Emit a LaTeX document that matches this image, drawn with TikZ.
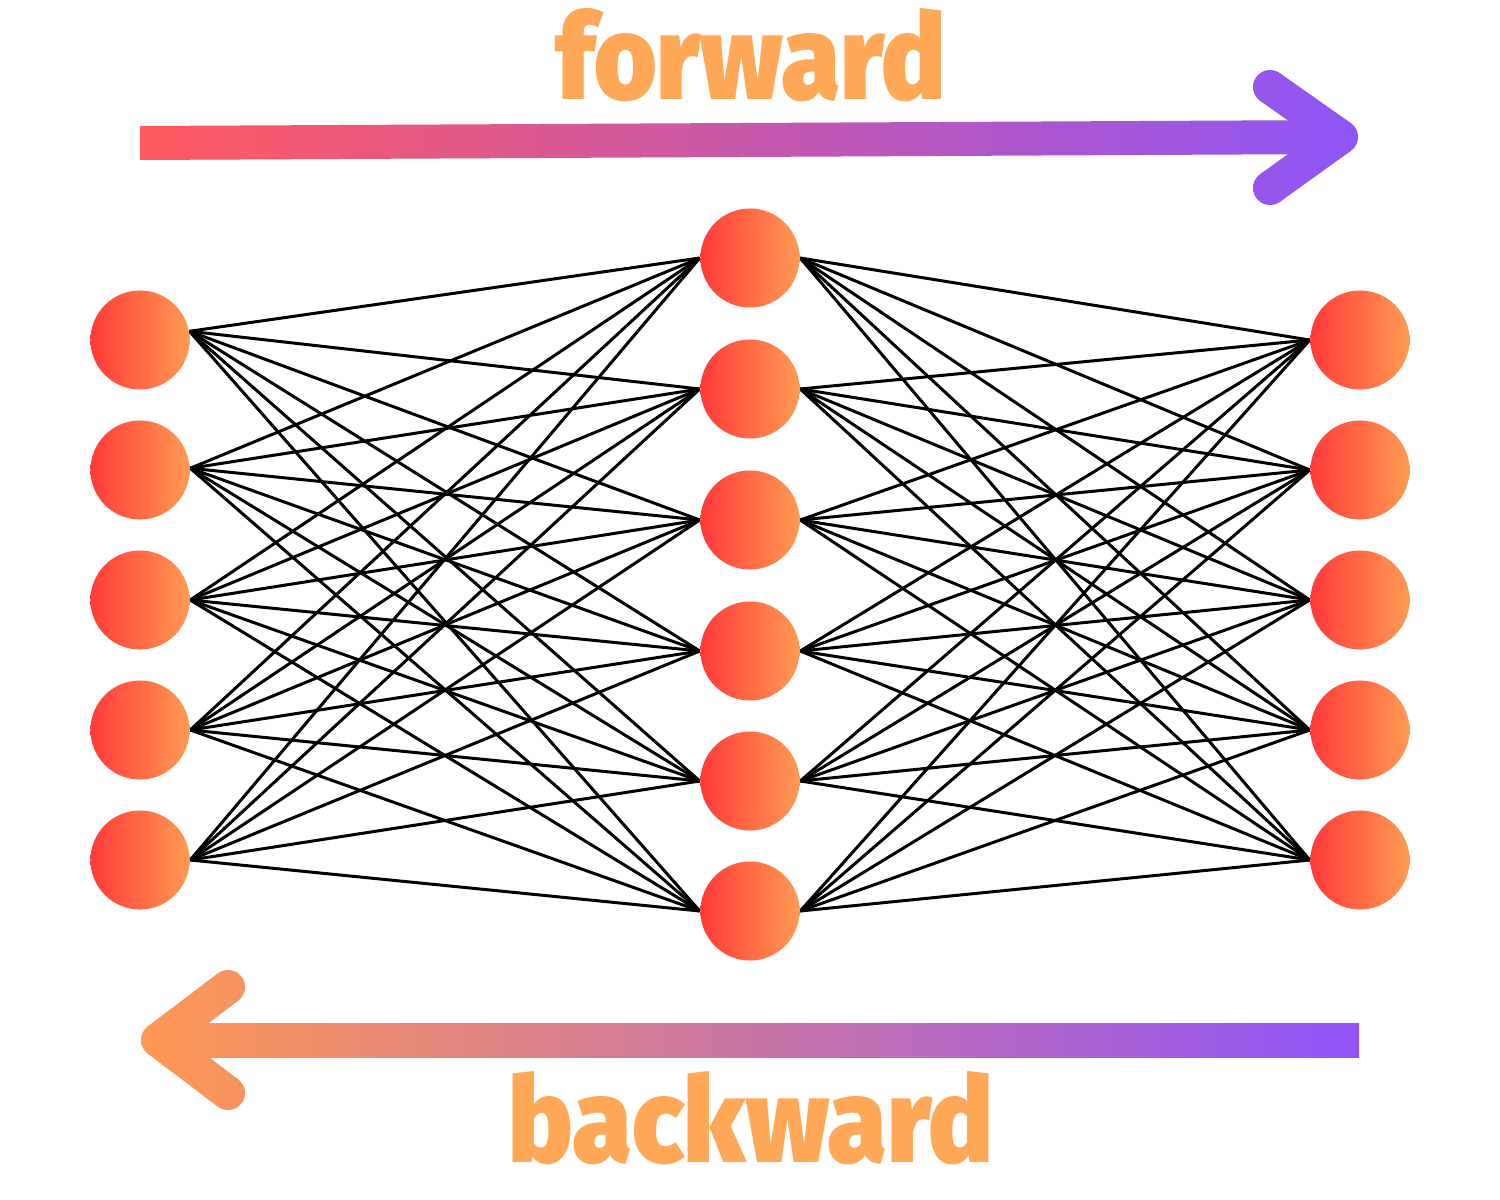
\documentclass[tikz,border=0pt]{standalone}
\usepackage{fontspec}
\usetikzlibrary{calc,backgrounds}
\IfFontExistsTF{FiraSans-Black.otf}{\newfontfamily\dispfont{FiraSans-Black.otf}}{%
  \IfFontExistsTF{Fira Sans Black}{\newfontfamily\dispfont{Fira Sans Black}}{\newfontfamily\dispfontbase{Fira Sans}\newcommand\dispfont{\dispfontbase\bfseries}}}
\definecolor{nodeL}{HTML}{FF3A3A}
\definecolor{nodeR}{HTML}{FF9B52}
\definecolor{fwdL}{HTML}{FF5A5F}
\definecolor{fwdR}{HTML}{8F55F7}
\definecolor{bwdL}{HTML}{FF9853}
\definecolor{bwdR}{HTML}{9153F8}
\definecolor{txtC}{HTML}{FFA858}
\newcommand\fpiece[1]{\begin{scope}\clip #1;\shade[left color=fwdL,right color=fwdR] (140,60) rectangle (1358,215);\end{scope}}
\newcommand\bpiece[1]{\begin{scope}\clip #1;\shade[left color=bwdL,right color=bwdR] (141,960) rectangle (1359,1120);\end{scope}}
\begin{document}
\begin{tikzpicture}[x=0.01cm,y=-0.01cm,
  neuron/.style={circle,minimum size=0.99cm,inner sep=0pt,draw=none,left color=nodeL,right color=nodeR},
  conn/.style={line width=0.85pt,black},
  lbl/.style={inner sep=0pt,text=txtC}]
\useasboundingbox (0,0) rectangle (1500,1200);
% neurons
\foreach \i/\yy in {1/340,2/470,3/600,4/730,5/860}{
  \node[neuron] (L\i) at (140,\yy) {};
  \node[neuron] (R\i) at (1360,\yy) {};}
\foreach \i/\yy in {1/258,2/389,3/520,4/651,5/781,6/911}
  \node[neuron] (M\i) at (750,\yy) {};
% connection ports
\foreach \i/\a in {1/10,2/2,3/0,4/0,5/0}
  \coordinate (P\i) at (L\i.\a);
% connections
\begin{scope}[on background layer]
\foreach \i in {1,...,5}{\foreach \j in {1,...,6}{
  \draw[conn] (P\i) -- (M\j.west);
  \draw[conn] (M\j.east) -- (R\i.west);}}
\end{scope}
% forward arrow
\def\hw{0.17cm}
\coordinate (ta) at (1270,87);
\coordinate (tv) at (1341,137);
\coordinate (tb) at (1270,188);
\fpiece{(140,126) -- (1341,120) -- (1341,154) -- (140,160) -- cycle}
\fpiece{($(ta)!\hw!90:(tv)$) -- ($(tv)!\hw!-90:(ta)$) -- ($(tv)!\hw!90:(ta)$) -- ($(ta)!\hw!-90:(tv)$) -- cycle}
\fpiece{($(tb)!\hw!90:(tv)$) -- ($(tv)!\hw!-90:(tb)$) -- ($(tv)!\hw!90:(tb)$) -- ($(tb)!\hw!-90:(tv)$) -- cycle}
\fpiece{(ta) circle[radius=\hw]}
\fpiece{(tb) circle[radius=\hw]}
\fpiece{(tv) circle[radius=\hw]}
% backward arrow
\coordinate (ba) at (228,987);
\coordinate (bv) at (158,1040);
\coordinate (bb) at (228,1093);
\bpiece{(158,1023) -- (1359,1023) -- (1359,1057) -- (158,1057) -- cycle}
\bpiece{($(ba)!\hw!90:(bv)$) -- ($(bv)!\hw!-90:(ba)$) -- ($(bv)!\hw!90:(ba)$) -- ($(ba)!\hw!-90:(bv)$) -- cycle}
\bpiece{($(bb)!\hw!90:(bv)$) -- ($(bv)!\hw!-90:(bb)$) -- ($(bv)!\hw!90:(bb)$) -- ($(bb)!\hw!-90:(bv)$) -- cycle}
\bpiece{(ba) circle[radius=\hw]}
\bpiece{(bb) circle[radius=\hw]}
\bpiece{(bv) circle[radius=\hw]}
% labels
\node[lbl,anchor=base west] (fw) at (555,100) {\resizebox{3.9cm}{0.91cm}{\dispfont forward}};
\node[lbl,anchor=base west] (bw) at (508,1162) {\resizebox{4.84cm}{0.91cm}{\dispfont backward}};
\end{tikzpicture}
\end{document}
